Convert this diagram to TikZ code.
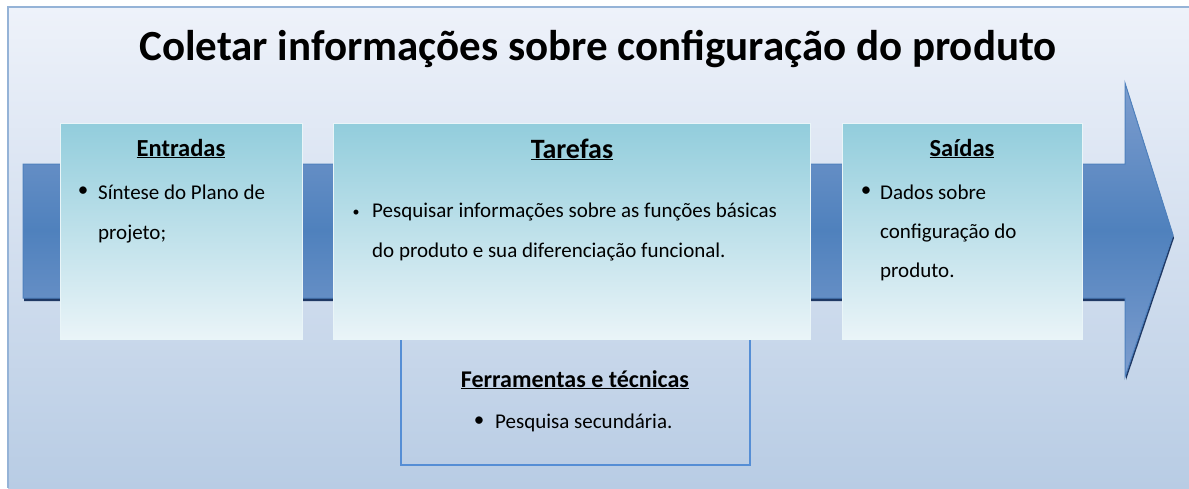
\documentclass[tikz,border=0pt]{standalone}
\usepackage{fontspec}
\setmainfont{Carlito}
\definecolor{framebg}{RGB}{238, 242, 250}
\definecolor{framebot}{RGB}{184, 204, 228}
\definecolor{frameline}{RGB}{149, 179, 215}
\definecolor{arrowblue}{RGB}{79, 129, 189}
\definecolor{arrowlight}{RGB}{125, 157, 206}
\definecolor{arrowdark}{RGB}{31, 56, 100}
\definecolor{boxtop}{RGB}{146, 205, 220}
\definecolor{boxbot}{RGB}{234, 244, 248}
\definecolor{toolblue}{RGB}{85, 142, 213}
\usetikzlibrary{positioning, calc}

\begin{document}
\begin{tikzpicture}[x=1pt, y=-1pt,
  stagebox/.style={draw=white!80!boxtop, line width=0.8pt, top color=boxtop, bottom color=boxbot, anchor=north west, inner sep=0pt},
  boxtitle/.style={anchor=base, inner sep=0pt, font=\fontsize{24.5}{28}\selectfont\bfseries},
  bodytext/.style={anchor=base west, inner sep=0pt, text width=215pt, align=flush left, font=\fontsize{21}{40}\selectfont},
  bul/.style={inner sep=0pt, font=\fontsize{21}{24}\selectfont}]
  \useasboundingbox (0,0) rectangle (1189,488);

  % Background frame
  \shade[top color=framebg, bottom color=framebot] (8,7) rectangle (1189,488);
  \draw[frameline, line width=1.5pt] (8,488) -- (8,7) -- (1189,7);

  % Title
  \node[anchor=base, inner sep=0pt, font=\fontsize{43}{50}\selectfont\bfseries] (title) at (598,60) {Coletar informações sobre configuração do produto};

  % Big arrow
  \fill[arrowdark] (24,167) -- (1126,167) -- (1126,86) -- (1174,238) -- (1126,380) -- (1126,301) -- (24,301) -- cycle;
  \shade[top color=arrowlight, bottom color=arrowlight, middle color=arrowblue, draw=arrowblue, line width=1pt]
    (23,164) -- (1125,164) -- (1125,83) -- (1173,235) -- (1125,377) -- (1125,298) -- (23,298) -- cycle;

  % Tools box
  \draw[toolblue, line width=2.5pt] (401,330) -- (401,465) -- (750,465) -- (750,330);
  \node[boxtitle, font=\fontsize{24}{28}\selectfont\bfseries] (tooltitle) at (575,387) {\underline{Ferramentas e técnicas}};
  \node[bul] (toolbul) at (479,422) {\textbullet};
  \node[bodytext] (tooltext) at (495,428) {Pesquisa secundária.};

  % Entradas
  \node[stagebox, minimum width=242pt, minimum height=216pt] (entradas) at (60,123) {};
  \node[boxtitle] (enttitle) at (181,156) {\underline{Entradas}};
  \node[bul] (entbul) at (83,192) {\textbullet};
  \node[bodytext] (enttext) at (98,199) {Síntese do Plano de\\projeto;};

  % Tarefas
  \node[stagebox, minimum width=477pt, minimum height=216pt] (tarefas) at (333,123) {};
  \node[boxtitle, font=\fontsize{28}{32}\selectfont\bfseries] (taftitle) at (572,158) {\underline{Tarefas}};
  \node[bul, font=\fontsize{14}{16}\selectfont] (tafbul) at (356,213) {\textbullet};
  \node[bodytext, text width=430pt] (taftext) at (372,217) {Pesquisar informações sobre as funções básicas\\do produto e sua diferenciação funcional.};

  % Saidas
  \node[stagebox, minimum width=240pt, minimum height=216pt] (saidas) at (842,123) {};
  \node[boxtitle] (saititle) at (962,156) {\underline{Saídas}};
  \node[bul] (saibul) at (866,192) {\textbullet};
  \node[bodytext, font=\fontsize{21}{39}\selectfont] (saitext) at (880,199) {Dados sobre\\configuração do\\produto.};
\end{tikzpicture}
\end{document}
